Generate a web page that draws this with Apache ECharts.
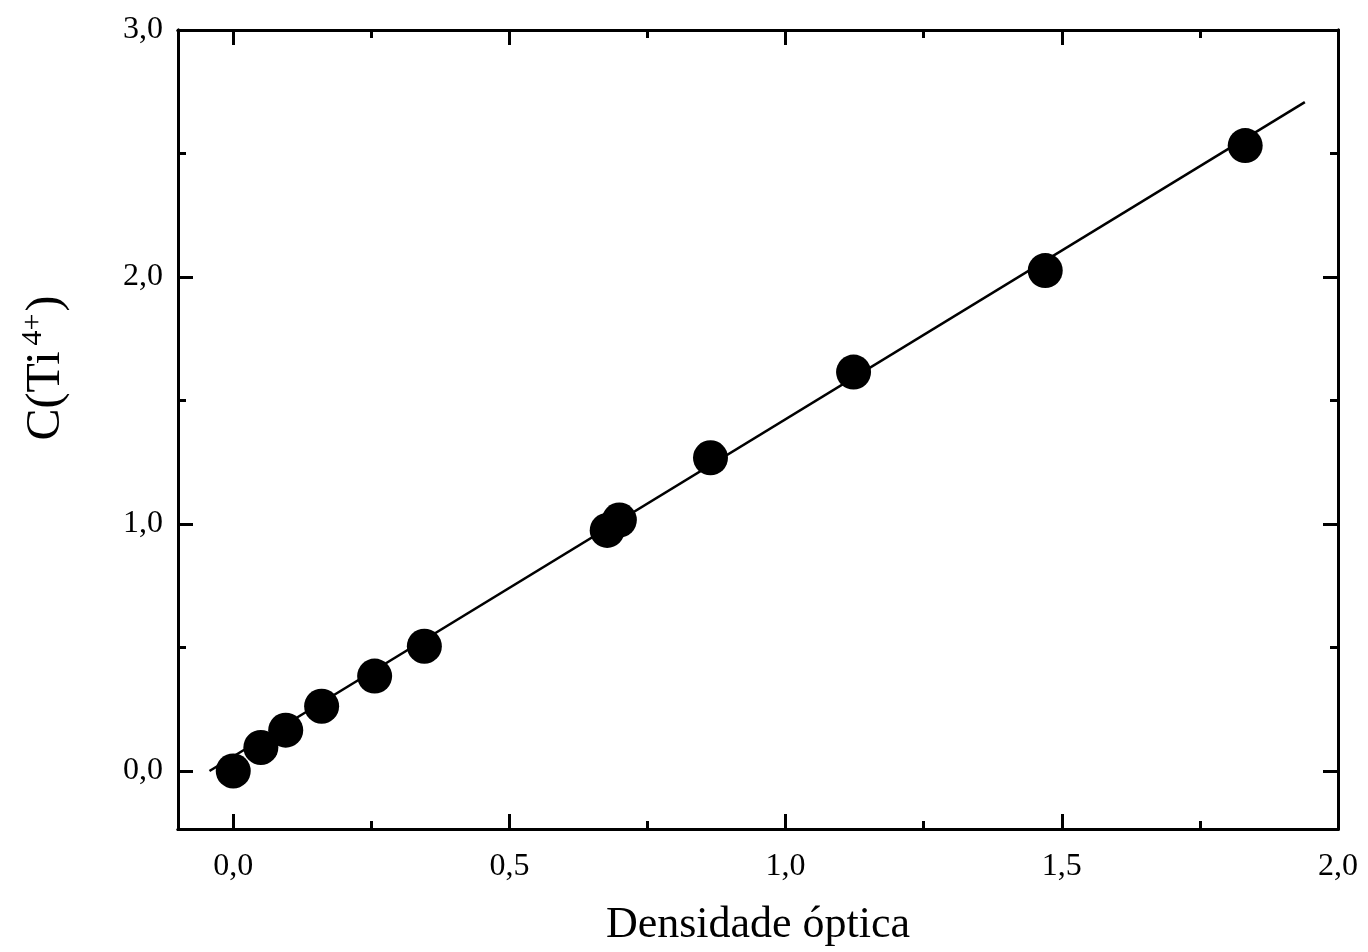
<!DOCTYPE html>
<html>
<head>
<meta charset="utf-8">
<script src="https://cdn.jsdelivr.net/npm/echarts@6/dist/echarts.min.js"></script>
<style>
  html, body { margin: 0; padding: 0; background: #fff; }
  #chart { width: 1368px; height: 952px; }
</style>
</head>
<body>
<div id="chart"></div>
<script>
// ---- data ----
const ptX = [0.0, 0.05, 0.095, 0.16, 0.256, 0.346, 0.677, 0.699, 0.864, 1.123, 1.470, 1.832];
const ptY = [0.0, 0.095, 0.165, 0.262, 0.384, 0.505, 0.974, 1.016, 1.268, 1.615, 2.026, 2.532];
const fitX = [-0.043, 1.94];
const fitY = [0.0, 2.708];
const xMajor = [0, 0.5, 1.0, 1.5, 2.0];
const xMinor = [0.25, 0.75, 1.25, 1.75];
const yMajor = [0, 1, 2, 3];
const yMinor = [0.5, 1.5, 2.5];
const xName = 'Densidade óptica';
const yNameMain = 'C(Ti';
const yNameSup = '4+';

const FONT = "'Liberation Serif', 'DejaVu Serif', serif";
const fmt = v => v.toFixed(1).replace('.', ',');

function xAx(position, ticks, len, showLabel, extra) {
  return Object.assign({
    type: 'value', position: position, min: -0.1, max: 2.0,
    axisLine: { show: true, onZero: false, lineStyle: { color: '#000', width: 3 } },
    axisTick: { show: true, inside: true, length: len, customValues: ticks,
                lineStyle: { color: '#000', width: 3 } },
    axisLabel: showLabel ? { show: true, customValues: ticks, formatter: fmt,
                fontFamily: FONT, fontSize: 32, color: '#000', margin: 22 } : { show: false },
    splitLine: { show: false }
  }, extra || {});
}
function yAx(position, ticks, len, showLabel, extra) {
  return Object.assign({
    type: 'value', position: position, min: -0.235, max: 3.0,
    axisLine: { show: true, onZero: false, lineStyle: { color: '#000', width: 3 } },
    axisTick: { show: true, inside: true, length: len, customValues: ticks,
                lineStyle: { color: '#000', width: 3 } },
    axisLabel: showLabel ? { show: true, customValues: ticks, formatter: fmt,
                fontFamily: FONT, fontSize: 32, color: '#000', margin: 15 } : { show: false },
    splitLine: { show: false }
  }, extra || {});
}

const chart = echarts.init(document.getElementById('chart'), null, { renderer: 'canvas' });
chart.setOption({
  animation: false,
  backgroundColor: '#fff',
  grid: { left: 178, right: 30, top: 30, bottom: 122 },
  xAxis: [
    xAx('bottom', xMajor, 15, true, {
      name: xName, nameLocation: 'middle', nameGap: 74,
      nameTextStyle: { fontFamily: FONT, fontSize: 44, color: '#000' }
    }),
    xAx('bottom', xMinor, 8, false),
    xAx('top', xMajor, 15, false),
    xAx('top', xMinor, 8, false)
  ],
  yAxis: [
    yAx('left', yMajor, 15, true),
    yAx('left', yMinor, 8, false),
    yAx('right', yMajor, 15, false),
    yAx('right', yMinor, 8, false)
  ],
  graphic: [{
    type: 'text',
    x: 46, y: 368,
    rotation: Math.PI / 2,
    style: {
      text: '{a|' + yNameMain + '}{s|' + yNameSup + '}{a|)}',
      rich: {
        a: { fontFamily: FONT, fontSize: 48, color: '#000', lineHeight: 56 },
        s: { fontFamily: FONT, fontSize: 30, color: '#000', verticalAlign: 'top', padding: [0, 2, 18, 6] }
      },
      align: 'center', verticalAlign: 'middle'
    }
  }],
  series: [
    {
      type: 'line', xAxisIndex: 0, yAxisIndex: 0,
      data: fitX.map((x, i) => [x, fitY[i]]),
      symbol: 'none', lineStyle: { color: '#000', width: 2.5 }, z: 2
    },
    {
      type: 'scatter', xAxisIndex: 0, yAxisIndex: 0,
      data: ptX.map((x, i) => [x, ptY[i]]),
      symbol: 'circle', symbolSize: 35,
      itemStyle: { color: '#000', opacity: 1 }, z: 3
    }
  ]
});
</script>
</body>
</html>
